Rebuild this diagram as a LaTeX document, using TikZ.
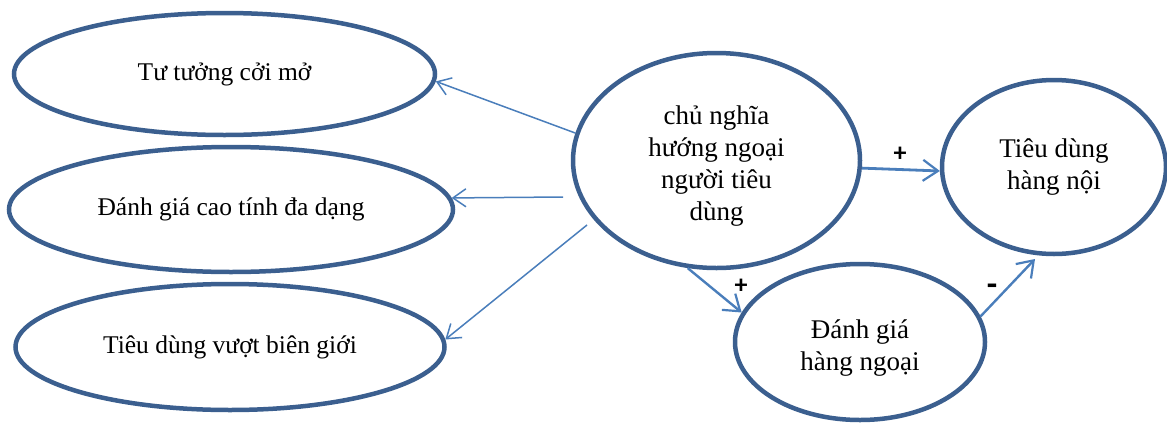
\documentclass[tikz,border=0pt]{standalone}
\usepackage{fontspec}
\setmainfont{Liberation Serif}
\newfontfamily\signfont{Carlito}
\usetikzlibrary{shapes.geometric,arrows.meta}
\definecolor{ellcol}{RGB}{59,95,143}
\definecolor{arrcol}{RGB}{74,126,187}
\begin{document}
\begin{tikzpicture}[x=1pt,y=-1pt,
  ell/.style={draw=ellcol,line width=4.5pt,ellipse,inner sep=0pt,align=center,fill=white},
  smalltext/.style={font=\fontsize{25.5}{30}\selectfont},
  bigtext/.style={font=\fontsize{27}{32}\selectfont},
  txt/.style={bigtext,align=center,inner sep=0pt},
  thinarr/.style={draw=arrcol,line width=1.5pt,-{Straight Barb[length=13pt,width=18pt,line width=1.5pt]}},
  thickarr/.style={draw=arrcol,line width=2.8pt,-{Straight Barb[length=15pt,width=21pt,line width=2.2pt]}},
  sign/.style={font=\signfont\bfseries\fontsize{26}{30}\selectfont,inner sep=0pt}]
\useasboundingbox (0,0) rectangle (1167,426);
% nodes
\node[ell,smalltext,minimum width=421pt,minimum height=122pt] (e1) at (224.5,74) {Tư tưởng cởi mở};
\node[ell,smalltext,minimum width=444pt,minimum height=125pt] (e2) at (231,209.5) {Đánh giá cao tính đa dạng};
\node[ell,smalltext,minimum width=429pt,minimum height=126pt] (e3) at (230,347) {Tiêu dùng vượt biên giới};
\node[ell,minimum width=287pt,minimum height=215pt] (c) at (716.5,160.5) {};
\node[txt] (ct) at (716.5,166) {chủ nghĩa\\hướng ngoại\\người tiêu\\dùng};
\node[ell,bigtext,minimum width=224pt,minimum height=174pt] (e5) at (1054,167) {Tiêu dùng\\hàng nội};
\node[ell,minimum width=250pt,minimum height=156pt] (e6) at (860,342) {};
\node[txt] (e6t) at (860,348) {Đánh giá\\hàng ngoại};
% free ends
\coordinate (s2) at (563,197);
\coordinate (s3) at (587,225);
\coordinate (t7) at (1035,259);
% connectors
\draw[thinarr] (c.169) -- (e1.-2);
\draw[thinarr] (s2) -- (e2.3);
\draw[thinarr] (s3) -- (e3.2);
\draw[thickarr] (c.-3) -- (e5.182);
\draw[thickarr,line width=2.4pt] (c.255) -- (e6.166);
\draw[thickarr,line width=2.4pt] (e6.12) -- (t7);
% labels
\node[sign] (p1) at (900,154) {+};
\node[sign] (p2) at (741,286) {+};
\node[sign,font=\signfont\bfseries\fontsize{34}{36}\selectfont] (m1) at (992,290) {-};
\end{tikzpicture}
\end{document}
